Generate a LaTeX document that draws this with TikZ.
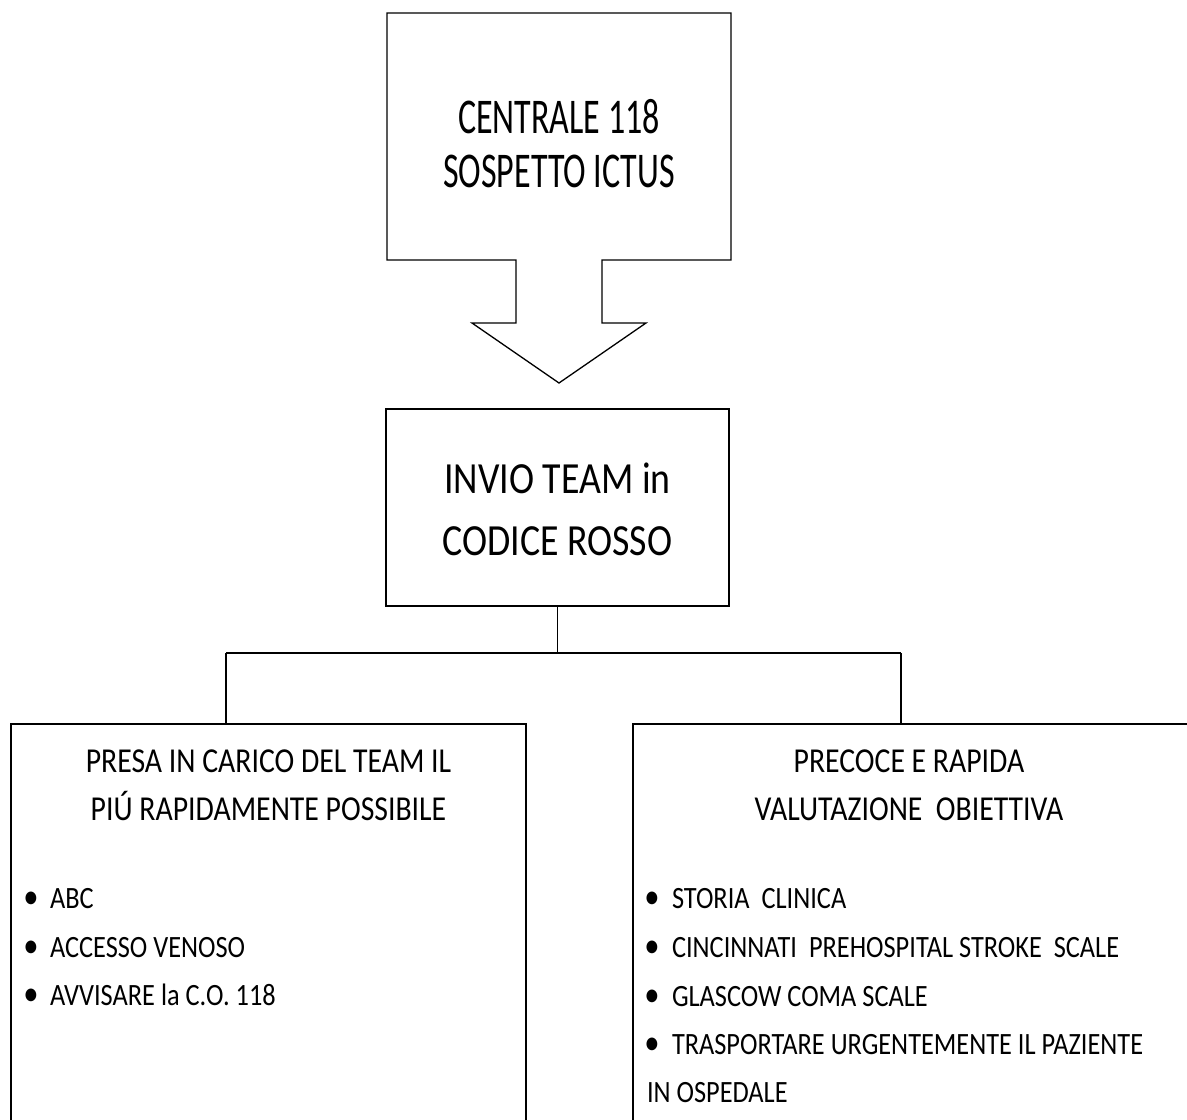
\documentclass[tikz,border=0pt]{standalone}
\usepackage{fontspec}
\setmainfont{Carlito}[FakeStretch=0.85]
\newfontfamily\condfont{Carlito}[FakeStretch=0.68]
\usetikzlibrary{calc}

\begin{document}
\begin{tikzpicture}[
            x=1pt, y=-1pt,
            every node/.style={inner sep=0pt, outer sep=0pt},
            box/.style={draw, line width=1.3pt, rectangle},
            link/.style={line width=1.2pt},
            toptext/.style={font=\condfont\fontsize{50}{56}\selectfont, anchor=base},
            bigtext/.style={font=\fontsize{44.5}{50}\selectfont, anchor=base},
            title/.style={font=\fontsize{35}{40}\selectfont, anchor=base},
            item/.style={font=\fontsize{31}{36}\selectfont, anchor=base west},
            dot/.style={font=\fontsize{36}{40}\selectfont, anchor=base},
          ]
          \useasboundingbox (0,0) rectangle (1187,1120);
          % callout at the top
          \node[minimum width=344pt, minimum height=247pt] (central) at (559,136.5) {};
          \coordinate (tip) at (559,383);
          \draw[box] (central.north west) -- (central.north east) -- (central.south east)
            -- ($(central.south)+(43,0)$) -- ++(0,63) -- ++(44,0) -- (tip)
            -- ++(-87,-60) -- ++(44,0) -- ++(0,-63) -- (central.south west) -- cycle;
          \node[toptext] (central1) at (559,133) {CENTRALE 118};
          \node[toptext] (central2) at (559,187) {SOSPETTO ICTUS};
          % second box
          \node[box, minimum width=343pt, minimum height=197pt] (invio) at (557.5,507.5) {};
          \node[bigtext] (invio1) at (557.5,493) {INVIO TEAM in};
          \node[bigtext] (invio2) at (557.5,555) {CODICE ROSSO};
          % lower boxes
          \node[box, anchor=north west, minimum width=515pt, minimum height=430pt] (presa) at (11,724) {};
          \node[box, anchor=north west, minimum width=560pt, minimum height=430pt] (precoce) at (633,724) {};
          % connectors
          \coordinate (split) at ($(invio.south)+(0,47)$);
          \coordinate (lj) at (226,653);
          \coordinate (rj) at (901,653);
          \draw[link] (invio.south) -- (split);
          \draw[link] (lj) -- (rj);
          \draw[link] (lj) -- (lj |- presa.north);
          \draw[link] (rj) -- (rj |- precoce.north);
          % left box text
          \node[title] (presa1) at (268.5,772) {PRESA IN CARICO DEL TEAM IL};
          \node[title] (presa2) at (268.5,820) {PIÚ\ RAPIDAMENTE\ POSSIBILE};
          \node[dot] at (31,908) {•};
          \node[item] (abc) at (50,908) {ABC};
          \node[dot] at (31,957) {•};
          \node[item] (accesso) at (50,957) {ACCESSO VENOSO};
          \node[dot] at (31,1005) {•};
          \node[item] (avvisare) at (50,1005) {AVVISARE la C.O. 118};
          % right box text
          \node[title] (precoce1) at (909,772) {PRECOCE E RAPIDA};
          \node[title] (precoce2) at (909,820) {VALUTAZIONE\ \ OBIETTIVA};
          \node[dot] at (652,908) {•};
          \node[item] (storia) at (672,908) {STORIA\ \ CLINICA};
          \node[dot] at (652,957) {•};
          \node[item] (cincinnati) at (672,957) {CINCINNATI\ \ PREHOSPITAL STROKE\ \ SCALE};
          \node[dot] at (652,1006) {•};
          \node[item] (glascow) at (672,1006) {GLASCOW COMA SCALE};
          \node[dot] at (652,1054) {•};
          \node[item] (trasporto) at (672,1054) {TRASPORTARE URGENTEMENTE IL PAZIENTE};
          \node[item] (ospedale) at (647,1102) {IN OSPEDALE};
          \end{tikzpicture}
\end{document}
